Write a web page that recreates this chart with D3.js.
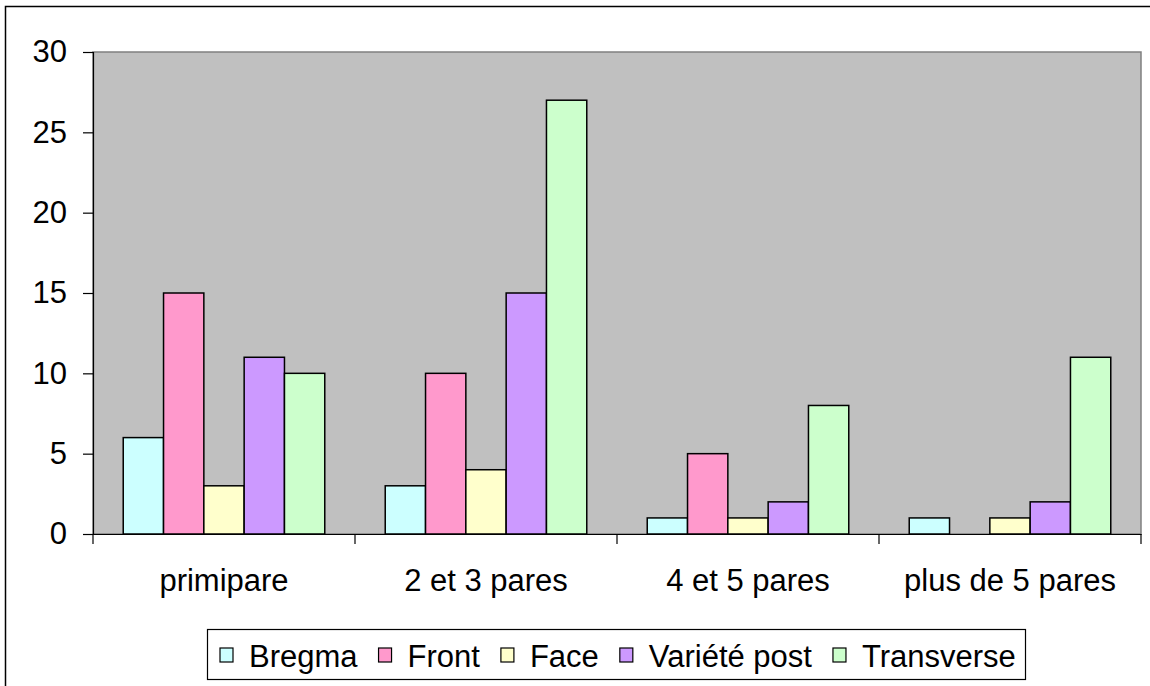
<html lang="en">
<head>
  <meta charset="utf-8">
  <title>Presentation par parite</title>
  <script src="https://d3js.org/d3.v7.min.js"></script>
  <style>
    body { margin: 0; background: #fff; }
    text { font-family: "Liberation Sans", Arial, sans-serif; fill: #000; }
  </style>
</head>
<body>
<svg id="chart"></svg>
<script>
// categories and series
var categories = ["primipare", "2 et 3 pares", "4 et 5 pares", "plus de 5 pares"];
var seriesNames = ["Bregma", "Front", "Face", "Variété post", "Transverse"];
var seriesColors = ["#CCFFFF", "#FF99CC", "#FFFFCC", "#CC99FF", "#CCFFCC"];

var bregma = [6, 3, 1, 1];
var front = [15, 10, 5, 0];
var face = [3, 4, 1, 1];
var varietePost = [11, 15, 2, 2];
var transverse = [10, 27, 8, 11];

var yTicks = [0, 5, 10, 15, 20, 25, 30];

var seriesValues = [bregma, front, face, varietePost, transverse];

var config = { w: 1150, h: 686, font: "31px" };
var plot = { left: 93, right: 1141, top: 52, bottom: 534 };

var svg = d3.select("#chart")
  .attr("width", config.w)
  .attr("height", config.h);

// outer frame
svg.append("rect")
  .attr("x", 5.5).attr("y", 6.5)
  .attr("width", 1150).attr("height", 700)
  .attr("fill", "none")
  .attr("stroke", "#000")
  .attr("stroke-width", 1.5);

var x0 = d3.scaleBand()
  .domain(categories)
  .range([plot.left, plot.right]);

// 150% gap width: 5 bars + 1.5 bar of gap
var x1 = d3.scaleBand()
  .domain(seriesNames)
  .range([0, x0.bandwidth()])
  .paddingInner(0)
  .paddingOuter(0.75);

var y = d3.scaleLinear()
  .domain([0, 30])
  .range([plot.bottom, plot.top]);

// plot background
svg.append("rect")
  .attr("x", plot.left).attr("y", plot.top)
  .attr("width", plot.right - plot.left)
  .attr("height", plot.bottom - plot.top)
  .attr("fill", "#C0C0C0")
  .attr("stroke", "#808080")
  .attr("stroke-width", 1.5);

// bars
var groups = svg.selectAll("g.cat")
  .data(categories)
  .enter()
  .append("g")
  .attr("class", "cat")
  .attr("transform", function(d) { return "translate(" + x0(d) + ",0)"; });

groups.selectAll("rect")
  .data(function(d, i) {
    return seriesNames.map(function(s, j) {
      return { name: s, value: seriesValues[j][i], color: seriesColors[j] };
    });
  })
  .enter()
  .filter(function(d) { return d.value > 0; })
  .append("rect")
  .attr("x", function(d) { return x1(d.name); })
  .attr("y", function(d) { return y(d.value); })
  .attr("width", x1.bandwidth())
  .attr("height", function(d) { return y(0) - y(d.value); })
  .attr("fill", function(d) { return d.color; })
  .attr("stroke", "#000")
  .attr("stroke-width", 1.5);

// y axis
var yAxis = svg.append("g")
  .attr("transform", "translate(" + plot.left + ",0)")
  .call(d3.axisLeft(y).tickValues(yTicks).tickSize(10).tickPadding(16));
yAxis.select(".domain").attr("stroke", "#000").attr("stroke-width", 1.2);
yAxis.selectAll(".tick line").attr("stroke", "#000").attr("stroke-width", 1.2);
yAxis.selectAll("text").style("font-size", config.font).attr("fill", "#000");

// x axis
var xAxis = svg.append("g")
  .attr("transform", "translate(0," + plot.bottom + ")")
  .call(d3.axisBottom(x0).tickSize(0).tickPadding(35));
xAxis.select(".domain").attr("stroke", "#000").attr("stroke-width", 1.2);
xAxis.selectAll("text").style("font-size", config.font).attr("fill", "#000");

// category separators
var sep = categories.map(function(c) { return x0(c); }).concat([plot.right]);
svg.selectAll("line.sep")
  .data(sep)
  .enter()
  .append("line")
  .attr("class", "sep")
  .attr("x1", function(d) { return d; })
  .attr("x2", function(d) { return d; })
  .attr("y1", plot.bottom)
  .attr("y2", plot.bottom + 10)
  .attr("stroke", "#000")
  .attr("stroke-width", 1.2);

// legend
var legend = svg.append("g");
legend.append("rect")
  .attr("x", 207.5).attr("y", 629.5)
  .attr("width", 818).attr("height", 50)
  .attr("fill", "#fff")
  .attr("stroke", "#000")
  .attr("stroke-width", 1.2);

var lx = 220;
seriesNames.forEach(function(name, i) {
  legend.append("rect")
    .attr("x", lx).attr("y", 648)
    .attr("width", 13).attr("height", 14)
    .attr("fill", seriesColors[i])
    .attr("stroke", "#000")
    .attr("stroke-width", 1.2);
  var t = legend.append("text")
    .attr("x", lx + 29)
    .attr("y", 667)
    .style("font-size", config.font)
    .text(name);
  lx += 29 + t.node().getComputedTextLength() + 21;
});
</script>
</body>
</html>
